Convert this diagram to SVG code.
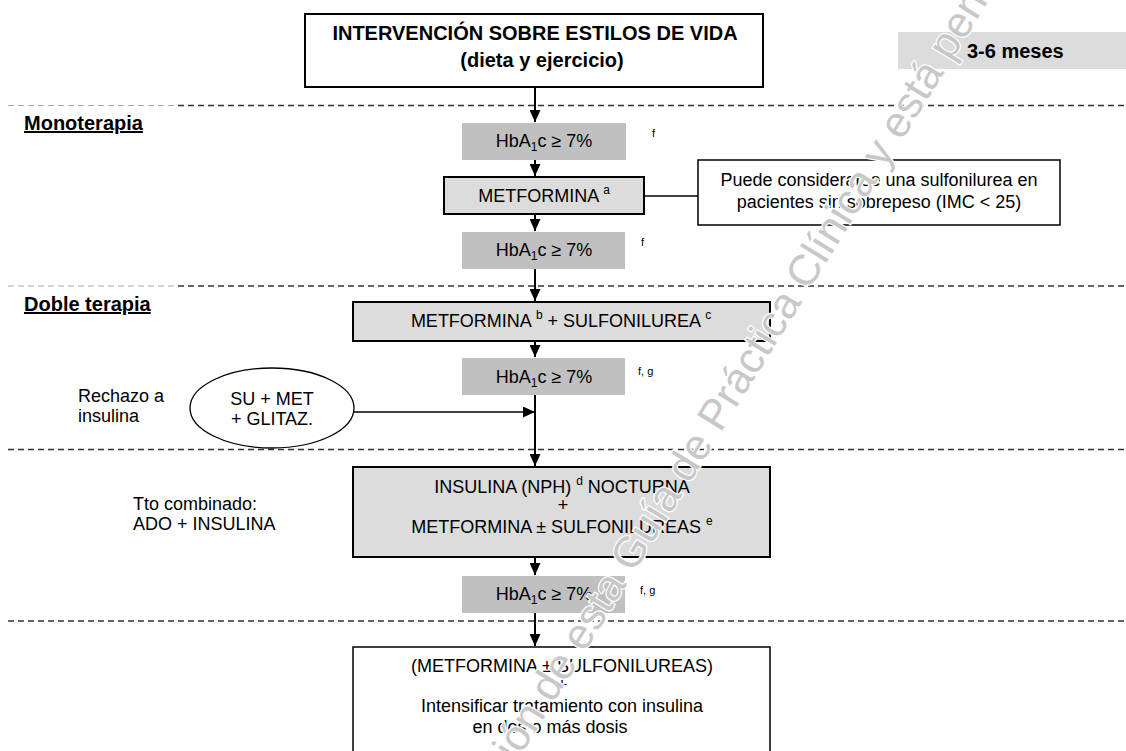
<svg xmlns="http://www.w3.org/2000/svg" width="1126" height="751" viewBox="0 0 1126 751">
<defs>
<style>
.t{font-family:"Liberation Sans",Arial,sans-serif;font-size:18px;fill:#000}
.b{font-weight:bold;font-size:20px}
.c{text-anchor:middle}
.sup{font-size:12px}
.fn{font-family:"Liberation Sans",Arial,sans-serif;font-size:11px;fill:#000}
.dash{stroke:#333;stroke-width:1.3;stroke-dasharray:6 4;fill:none}
.dashl{stroke:#aaa;stroke-width:1;stroke-dasharray:6 4;fill:none}
.hb{fill:#c0c0c0}
.lg{fill:#dcdcdc;stroke:#000;stroke-width:2}
.wb{fill:#fff;stroke:#000;stroke-width:1.5}
.conn{stroke:#000;stroke-width:2;fill:none}
.thin{stroke:#000;stroke-width:1.3;fill:none}
.wm{font-family:"Liberation Sans",Arial,sans-serif;font-size:43px;fill:#c8c8c8;stroke:#fff;stroke-width:2.5;paint-order:stroke}
</style>
<marker id="ah" markerUnits="userSpaceOnUse" markerWidth="12" markerHeight="11" refX="12" refY="5.5" orient="auto"><path d="M0,0 L12,5.5 L0,11 z" fill="#000"/></marker>
</defs>
<rect width="1126" height="751" fill="#fff"/>

<g id="separators">
<line class="dashl" x1="8" y1="105.5" x2="177" y2="105.5"/>
<line class="dash" x1="178" y1="105.5" x2="1126" y2="105.5"/>
<line class="dashl" x1="8" y1="286" x2="177" y2="286"/>
<line class="dash" x1="178" y1="286" x2="1126" y2="286"/>
<line class="dash" x1="8" y1="449.5" x2="1126" y2="449.5"/>
<line class="dash" x1="8" y1="621" x2="1126" y2="621"/>
</g>

<g id="labels">
<text class="t b" x="24" y="130" text-decoration="underline">Monoterapia</text>
<text class="t b" x="24" y="311" text-decoration="underline">Doble terapia</text>
<text class="t" x="78" y="402">Rechazo a</text>
<text class="t" x="78" y="422">insulina</text>
<text class="t" x="133" y="510">Tto combinado:</text>
<text class="t" x="133" y="530">ADO + INSULINA</text>
</g>

<g id="connectors">
<line class="conn" x1="535" y1="87" x2="535" y2="122" marker-end="url(#ah)"/>
<line class="conn" x1="535" y1="160" x2="535" y2="176" marker-end="url(#ah)"/>
<line class="conn" x1="535" y1="214" x2="535" y2="231" marker-end="url(#ah)"/>
<line class="conn" x1="535" y1="269" x2="535" y2="301" marker-end="url(#ah)"/>
<line class="conn" x1="535" y1="341" x2="535" y2="357" marker-end="url(#ah)"/>
<line class="conn" x1="535" y1="395" x2="535" y2="466" marker-end="url(#ah)"/>
<line class="thin" x1="354" y1="412" x2="535" y2="412" marker-end="url(#ah)"/>
<line class="conn" x1="535" y1="557" x2="535" y2="575" marker-end="url(#ah)"/>
<line class="conn" x1="535" y1="613" x2="535" y2="646" marker-end="url(#ah)"/>
<line class="thin" x1="644" y1="196" x2="698" y2="196"/>
</g>

<g id="n-estilos">
<rect x="305" y="14" width="458" height="73" fill="#fff" stroke="#000" stroke-width="2"/>
<text class="t b c" x="535" y="40">INTERVENCIÓN SOBRE ESTILOS DE VIDA</text>
<text class="t b c" x="542" y="67">(dieta y ejercicio)</text>
</g>

<g id="n-meses">
<rect x="898" y="32" width="228" height="37" fill="#dcdcdc"/>
<text class="t b" x="967" y="58">3-6 meses</text>
</g>

<g id="n-hba1">
<rect class="hb" x="462" y="123" width="164" height="37"/>
<text class="t c" x="544" y="147">HbA<tspan class="sup" dy="4">1</tspan><tspan dy="-4">c ≥ 7%</tspan></text>
<text class="fn" x="652" y="137">f</text>
</g>

<g id="n-metformina">
<rect class="lg" x="444" y="177" width="200" height="37"/>
<text class="t c" x="544" y="202">METFORMINA <tspan class="sup" dy="-8">a</tspan></text>
</g>

<g id="n-nota">
<rect class="wb" x="698" y="160" width="362" height="65"/>
<text class="t c" x="879" y="186">Puede considerarse una sulfonilurea en</text>
<text class="t c" x="879" y="208">pacientes sin sobrepeso (IMC &lt; 25)</text>
</g>

<g id="n-hba2">
<rect class="hb" x="462" y="232" width="163" height="37"/>
<text class="t c" x="544" y="256">HbA<tspan class="sup" dy="4">1</tspan><tspan dy="-4">c ≥ 7%</tspan></text>
<text class="fn" x="641" y="246">f</text>
</g>

<g id="n-doble">
<rect class="lg" x="353" y="302" width="417" height="39"/>
<text class="t c" x="561" y="327">METFORMINA <tspan class="sup" dy="-8">b</tspan><tspan dy="8"> + SULFONILUREA </tspan><tspan class="sup" dy="-8">c</tspan></text>
</g>

<g id="n-hba3">
<rect class="hb" x="462" y="358" width="163" height="37"/>
<text class="t c" x="544" y="383">HbA<tspan class="sup" dy="4">1</tspan><tspan dy="-4">c ≥ 7%</tspan></text>
<text class="fn" x="638" y="375">f, g</text>
</g>

<g id="n-glitaz">
<ellipse cx="272" cy="408" rx="82" ry="40" fill="#fff" stroke="#000" stroke-width="1.3"/>
<text class="t c" x="272" y="405">SU + MET</text>
<text class="t c" x="272" y="425">+ GLITAZ.</text>
</g>

<g id="n-insulina">
<rect class="lg" x="353" y="467" width="417" height="90"/>
<text class="t c" x="562" y="493">INSULINA (NPH) <tspan class="sup" dy="-8">d</tspan><tspan dy="8"> NOCTURNA</tspan></text>
<text class="t c" x="563" y="511">+</text>
<text class="t c" x="562" y="533">METFORMINA ± SULFONILUREAS <tspan class="sup" dy="-8">e</tspan></text>
</g>

<g id="n-hba4">
<rect class="hb" x="462" y="576" width="163" height="37"/>
<text class="t c" x="544" y="600">HbA<tspan class="sup" dy="4">1</tspan><tspan dy="-4">c ≥ 7%</tspan></text>
<text class="fn" x="640" y="594">f, g</text>
</g>

<g id="n-intensificar">
<rect class="wb" x="353" y="647" width="417" height="120"/>
<text class="t c" x="562" y="672">(METFORMINA ± SULFONILUREAS)</text>
<text class="t c" x="562" y="691">+</text>
<text class="t c" x="562" y="712">Intensificar tratamiento con insulina</text>
<text class="t c" x="550" y="733">en dos o más dosis</text>
</g>

<g id="watermark">
<text class="wm" transform="translate(505,781) rotate(-58.2)">ción de esta Guía de Práctica Clínica y está pen</text>
</g>
</svg>
